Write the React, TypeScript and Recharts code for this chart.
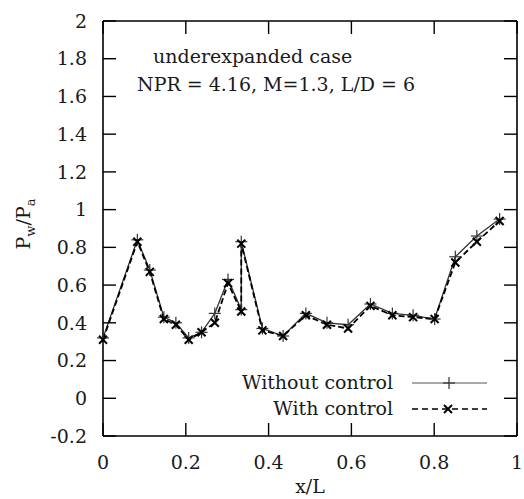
import { LineChart, Line, XAxis, YAxis, Legend } from 'recharts';

// x/L stations along the wall
const xStations = [0, 0.083, 0.113, 0.147, 0.176, 0.207, 0.238, 0.27, 0.302, 0.334, 0.334, 0.385, 0.435, 0.49, 0.541, 0.592, 0.646, 0.699, 0.749, 0.801, 0.851, 0.903, 0.958];
// Pw/Pa, without control
const withoutControl = [0.32, 0.84, 0.68, 0.43, 0.4, 0.32, 0.35, 0.45, 0.63, 0.47, 0.83, 0.37, 0.33, 0.45, 0.4, 0.39, 0.5, 0.45, 0.44, 0.42, 0.75, 0.86, 0.95];
// Pw/Pa, with control
const withControl = [0.31, 0.83, 0.67, 0.42, 0.39, 0.31, 0.35, 0.4, 0.61, 0.46, 0.82, 0.36, 0.33, 0.44, 0.39, 0.37, 0.49, 0.44, 0.43, 0.42, 0.72, 0.83, 0.94];

const xTicks = [0, 0.2, 0.4, 0.6, 0.8, 1];
const yTicks = [-0.2, 0, 0.2, 0.4, 0.6, 0.8, 1, 1.2, 1.4, 1.6, 1.8, 2];

const data = xStations.map((x, i) => ({ x, without: withoutControl[i], with: withControl[i] }));

const FONT = '"DejaVu Serif", serif';
const INK = '#1a1a1a';
const tickStyle = { fill: INK, fontSize: 19, fontFamily: FONT };
const frame = { stroke: '#000', strokeWidth: 1.6 };
const tickMark = { stroke: '#000', strokeWidth: 1.4 };
const noLabel = () => <g />;

const PlusDot = (props: any) => {
  const { cx, cy } = props;
  if (cx == null || cy == null) return null;
  return (
    <g stroke="#333" strokeWidth={1.2}>
      <line x1={cx - 6} y1={cy} x2={cx + 6} y2={cy} />
      <line x1={cx} y1={cy - 6} x2={cx} y2={cy + 6} />
    </g>
  );
};

const CrossDot = (props: any) => {
  const { cx, cy } = props;
  if (cx == null || cy == null) return null;
  return (
    <g stroke="#000" strokeWidth={2}>
      <line x1={cx - 4} y1={cy - 4} x2={cx + 4} y2={cy + 4} />
      <line x1={cx - 4} y1={cy + 4} x2={cx + 4} y2={cy - 4} />
    </g>
  );
};

const LegendBox = () => (
  <svg width={310} height={64} style={{ display: 'block' }}>
    <text x={193} y={29} textAnchor="end" fontSize={19} fontFamily={FONT} fill={INK}>Without control</text>
    <line x1={212} y1={23} x2={287} y2={23} stroke="#555" strokeWidth={1.2} />
    <PlusDot cx={249} cy={23} />
    <text x={193} y={55} textAnchor="end" fontSize={19} fontFamily={FONT} fill={INK}>With control</text>
    <line x1={212} y1={49} x2={287} y2={49} stroke="#000" strokeWidth={1.6} strokeDasharray="6 4" />
    <CrossDot cx={248} cy={49} />
  </svg>
);

export default function App() {
  return (
    <div style={{ position: 'absolute', left: 0, top: 0, width: 524, height: 499, background: '#fff', fontFamily: FONT }}>
      <LineChart width={524} height={499} data={data} margin={{ top: 21, right: 7, left: 0, bottom: 0 }}>
        <XAxis
          xAxisId="b"
          dataKey="x"
          type="number"
          domain={[0, 1]}
          ticks={xTicks}
          height={63}
          tickLine={false}
          tickSize={6}
          tickMargin={14}
          axisLine={frame}
          tick={tickStyle}
          label={{
            content: () => (
              <text x={310} y={493} textAnchor="middle" fontSize={19} fontFamily={FONT} fill={INK}>x/L</text>
            ),
          }}
        />
        <XAxis xAxisId="bm" dataKey="x" type="number" domain={[0, 1]} ticks={xTicks} orientation="bottom" mirror tick={noLabel} tickSize={13} axisLine={false} tickLine={tickMark} />
        <XAxis xAxisId="t" dataKey="x" type="number" domain={[0, 1]} ticks={xTicks} orientation="top" mirror tick={noLabel} tickSize={13} axisLine={frame} tickLine={tickMark} />
        <YAxis
          yAxisId="l"
          type="number"
          domain={[-0.2, 2]}
          ticks={yTicks}
          width={103}
          tickLine={false}
          tickSize={6}
          tickMargin={10}
          axisLine={frame}
          tick={tickStyle}
          label={{
            content: () => (
              <text transform="rotate(-90, 30, 224)" x={30} y={224} textAnchor="middle" fontSize={19} fontFamily={FONT} fill={INK}>
                P<tspan fontSize={13} dy={5}>w</tspan><tspan dy={-5}>/P</tspan><tspan fontSize={13} dy={5}>a</tspan>
              </text>
            ),
          }}
        />
        <YAxis yAxisId="lm" type="number" domain={[-0.2, 2]} ticks={yTicks} orientation="left" mirror tick={noLabel} tickSize={13} axisLine={false} tickLine={tickMark} />
        <YAxis yAxisId="rm" type="number" domain={[-0.2, 2]} ticks={yTicks} orientation="right" mirror tick={noLabel} tickSize={13} axisLine={frame} tickLine={tickMark} />
        {/* invisible series so the frame axes get drawn */}
        <Line xAxisId="t" yAxisId="rm" dataKey="with" stroke="none" dot={false} activeDot={false} legendType="none" isAnimationActive={false} />
        <Line xAxisId="bm" yAxisId="lm" dataKey="with" stroke="none" dot={false} activeDot={false} legendType="none" isAnimationActive={false} />
        <Line
          xAxisId="b"
          yAxisId="l"
          dataKey="without"
          stroke="#333"
          strokeWidth={1.3}
          dot={(p: any) => <PlusDot key={`p-${p.index}`} {...p} />}
          activeDot={false}
          isAnimationActive={false}
        />
        <Line
          xAxisId="b"
          yAxisId="l"
          dataKey="with"
          stroke="#000"
          strokeWidth={1.8}
          strokeDasharray="6 3"
          dot={(p: any) => <CrossDot key={`c-${p.index}`} {...p} />}
          activeDot={false}
          isAnimationActive={false}
        />
        <Legend
          layout="horizontal"
          verticalAlign="middle"
          align="center"
          content={() => <LegendBox />}
          wrapperStyle={{ position: 'absolute', left: 200, top: 360, width: 310, height: 64 }}
        />
      </LineChart>
      <svg width={524} height={110} style={{ position: 'absolute', left: 0, top: 0, pointerEvents: 'none' }}>
        <text x={153} y={63} fontSize={19} fontFamily={FONT} fill={INK}>underexpanded case</text>
        <text x={137} y={91} fontSize={19} fontFamily={FONT} fill={INK}>NPR = 4.16, M=1.3, L/D = 6</text>
      </svg>
    </div>
  );
}
